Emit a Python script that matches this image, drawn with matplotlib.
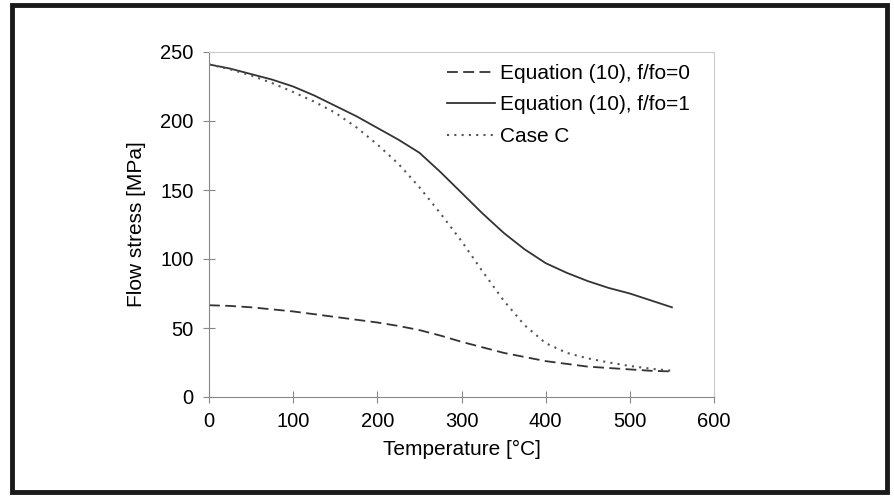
import numpy as np
import matplotlib.pyplot as plt
from matplotlib.patches import Rectangle

# Temperature [°C]
temperature = [0, 25, 50, 75, 100, 125, 150, 175, 200, 225, 250, 275,
               300, 325, 350, 375, 400, 425, 450, 475, 500, 525, 550]

# Flow stress [MPa]
eq10_f0 = [66.5, 66, 65, 63.5, 62, 60, 58, 56, 54, 51.5, 48.5, 44.5,
           40, 36, 32, 29, 26, 24, 22, 21, 20, 19, 18.5]
eq10_f1 = [241, 238, 234, 230, 225, 218.5, 211, 203.5, 195, 186.5, 177, 163,
           148, 133, 119, 107, 97, 90, 84, 79, 75, 70, 65]
case_c = [241, 237.5, 233, 227.5, 221, 214, 206, 195.5, 183, 169, 152, 133,
          113, 91, 70, 52, 39, 32, 28, 25, 22.5, 20.5, 19]

labels = ["Equation (10), f/fo=0", "Equation (10), f/fo=1", "Case C"]
x_ticks = [0, 100, 200, 300, 400, 500, 600]
y_ticks = [0, 50, 100, 150, 200, 250]

plt.rcParams["font.family"] = ["Liberation Sans", "DejaVu Sans"]
plt.rcParams["font.size"] = 15

fig = plt.figure(figsize=(8.95, 4.96), dpi=100)
ax = fig.add_axes([209 / 895, 1 - 397 / 496, 505 / 895, 345 / 496])

ax.plot(temperature, eq10_f0, color="#333333", lw=1.3, linestyle=(0, (6, 3)), label=labels[0])
ax.plot(temperature, eq10_f1, color="#333333", lw=1.3, linestyle="-", label=labels[1])
ax.plot(temperature, case_c, color="#555555", lw=1.5, linestyle=(0, (1, 2.5)), label=labels[2])

ax.set_xlim(0, 600)
ax.set_ylim(0, 250)
ax.set_xticks(x_ticks)
ax.set_yticks(y_ticks)
ax.tick_params(direction="inout", length=8, width=0.8, color="#888888",
               labelsize=14.5, pad=7)
for side in ["left", "bottom"]:
    ax.spines[side].set_color("#888888")
for side in ["top", "right"]:
    ax.spines[side].set_color("#cccccc")

ax.set_xlabel("Temperature [°C]", labelpad=6)
ax.set_ylabel("Flow stress [MPa]", labelpad=10)

ax.legend(loc="upper left", bbox_to_anchor=(447 / 895, 1 - 64 / 496),
          bbox_transform=fig.transFigure, frameon=False, borderpad=0,
          borderaxespad=0, handlelength=2.3, handletextpad=0.25,
          labelspacing=0.6)

# outer frame round the whole figure
fig.patches.append(Rectangle((12 / 895, 4 / 496), 875 / 895, 487 / 496,
                             transform=fig.transFigure, fill=False,
                             edgecolor="#1a1a1a", lw=3.5))

fig.savefig("out.png", dpi=100)
